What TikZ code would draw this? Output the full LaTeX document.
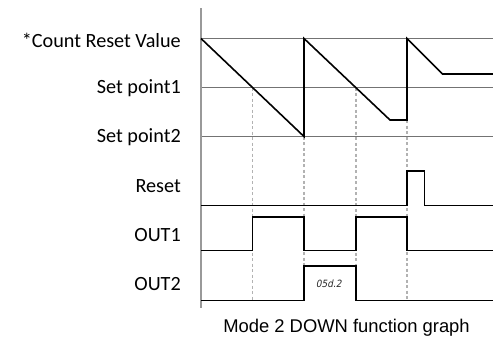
\documentclass[tikz,border=0pt]{standalone}
\usepackage{fontspec}
\setmainfont{Carlito}
\newfontfamily\capfont{Liberation Sans}
\newfontfamily\segfont{DejaVu Sans Condensed}
\begin{document}
\begin{tikzpicture}[x=1pt,y=-1pt,
  lbl/.style={anchor=east,inner sep=0pt,font=\fontsize{20.2}{21}\selectfont},
  grid/.style={draw=black!55,line width=1pt},
  axis/.style={draw=black!40,line width=1.6pt},
  wave/.style={draw=black,line width=1.6pt,line join=miter},
  sig/.style={draw=black,line width=1.4pt,line join=miter},
  guide/.style={draw=black!30,line width=1.1pt,dash pattern=on 3pt off 2.5pt}]
\useasboundingbox (0,0) rectangle (493,338);
% labels
\node[lbl] (lcrv) at (181,40) {*Count Reset Value};
\node[lbl] (lsp1) at (181,88.5) {Set point1};
\node[lbl] (lsp2) at (181,137.5) {Set point2};
\node[lbl] (lrst) at (181,186) {Reset};
\node[lbl] (lo1) at (181,235) {OUT1};
\node[lbl] (lo2) at (181,284) {OUT2};
% grid lines
\draw[grid] (201,38.5) -- (493,38.5);
\draw[grid] (201,87.5) -- (493,87.5);
\draw[grid] (201,136.5) -- (493,136.5);
% guides
\draw[guide] (252.7,87.5) -- (252.7,300);
\draw[guide] (304,136.5) -- (304,300);
\draw[guide] (356,87.5) -- (356,300);
\draw[guide] (407,120) -- (407,300);
% axis
\draw[axis] (201,8) -- (201,308);
% sawtooth
\draw[wave] (201,38.5) -- (304,136.5) -- (304,38.5) -- (390,120) -- (407,120) -- (407,38.5) -- (442.5,74) -- (493,74);
% reset
\draw[sig] (201,205.5) -- (407,205.5) -- (407,171) -- (424.5,171) -- (424.5,205.5) -- (493,205.5);
% out1
\draw[sig] (201,250.5) -- (252.7,250.5) -- (252.7,217) -- (304,217) -- (304,250.5) -- (356,250.5) -- (356,217) -- (407,217) -- (407,250.5) -- (493,250.5);
% out2
\draw[sig] (201,300.5) -- (304,300.5) -- (304,266) -- (356,266) -- (356,300.5) -- (493,300.5);
\node[inner sep=0pt,text=black!85,font=\segfont\fontsize{10}{10}\selectfont,xslant=0.2] (osd) at (329.5,283.5) {05d.2};
% caption
\node[inner sep=0pt,font=\capfont\fontsize{18.4}{19}\selectfont] (cap) at (346.5,328) {Mode 2 DOWN function graph};
\end{tikzpicture}
\end{document}
